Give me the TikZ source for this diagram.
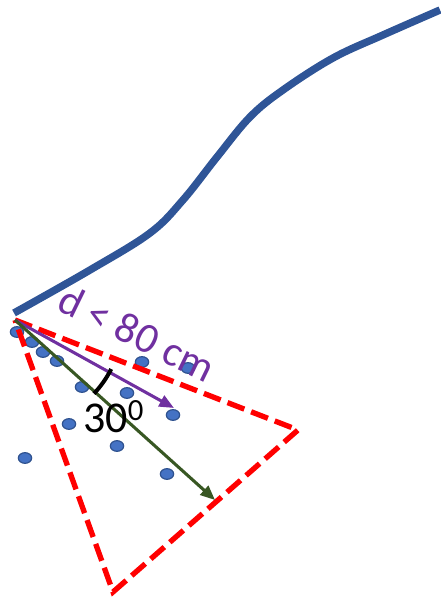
\documentclass[tikz,border=0pt]{standalone}
\usepackage{fontspec}
\setmainfont{Carlito}
\usetikzlibrary{arrows.meta,shapes.geometric}

\definecolor{roadblue}{HTML}{2F5597}
\definecolor{rangepurple}{HTML}{7030A0}
\definecolor{beamgreen}{HTML}{385723}
\definecolor{spotfill}{HTML}{4472C4}
\definecolor{spotline}{HTML}{2F528F}

\begin{document}
\begin{tikzpicture}[x=0.75pt,y=0.75pt,
  spot/.style={ellipse,draw=spotline,fill=spotfill,line width=0.9pt,
    minimum width=10pt,minimum height=8pt,inner sep=0pt},
  cone/.style={red,line width=4pt,dash pattern=on 13.5pt off 5.5pt},
  ray/.style={line width=2.3pt,-{Triangle[length=11pt,width=9pt]}}]

\useasboundingbox (0,0) rectangle (441,599);

% Points in the field
\foreach \x/\y [count=\i] in {17/267,32/257,43/247,57/238,142/237,188/231,
    82/212,127/206,173/184,69/175,117/153,25/141,167/125}
  \node[spot] (p\i) at (\x,\y) {};

% Sensor cone
\coordinate (apex) at (15,279);
\coordinate (edgeR) at (298,169);
\coordinate (edgeB) at (113,7);
\draw[cone] (apex) -- (edgeR) -- (edgeB) -- cycle;

% Range and axis
\coordinate (near) at (174,191);
\coordinate (far) at (215,99);
\draw[ray,rangepurple] (apex) -- (near);
\draw[ray,beamgreen] (apex) -- (far);

% Half angle
\draw[line width=3pt] (apex) ++(-43:108) arc[start angle=-43,end angle=-27,radius=108];
\node[anchor=base west,inner sep=0pt,font=\fontsize{33}{38}\selectfont] (anglabel) at (83,166) {30\textsuperscript{0}};

% Range label
\node[rangepurple,rotate=-26,inner sep=0pt,font=\fontsize{32}{36}\selectfont] (dlabel) at (137,266) {d < 80 cm};

% Path
\draw[roadblue,line width=5.6pt] plot[smooth,tension=0.6] coordinates {(14,286) (90,329)
  (150,366) (183,399) (217,442) (250,482) (283,509) (333,541) (383,564) (440,589)};

\end{tikzpicture}
\end{document}
